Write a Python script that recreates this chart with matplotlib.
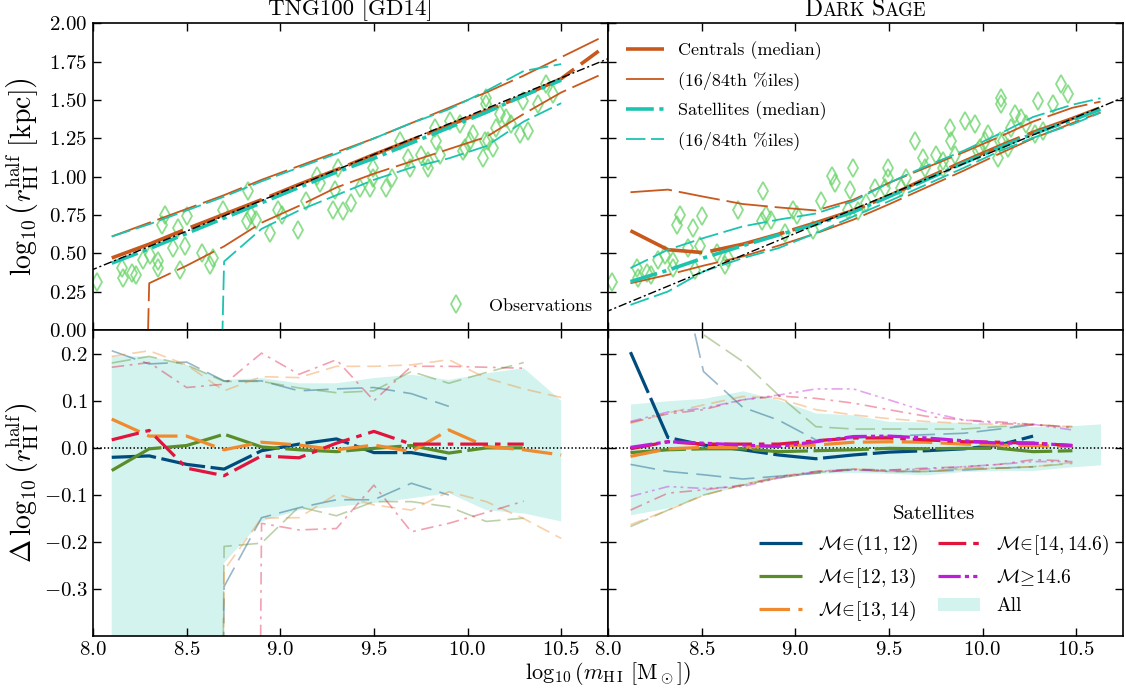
import numpy as np
import matplotlib.pyplot as plt
from matplotlib.ticker import MultipleLocator
from matplotlib.patches import Patch
from matplotlib.offsetbox import TextArea, HPacker, AnchoredOffsetbox

plt.rcParams['font.family'] = 'cmr10'
plt.rcParams['mathtext.fontset'] = 'cm'
plt.rcParams['axes.formatter.use_mathtext'] = True
plt.rcParams['lines.scale_dashes'] = False

# observed galaxies (shown in both upper panels)
obs_logm = [8.02, 8.153, 8.162, 8.206, 8.23, 8.269, 8.304, 8.349, 8.349, 8.366, 8.384,
            8.429, 8.455, 8.491, 8.50, 8.464, 8.58, 8.624, 8.642, 8.695, 8.829, 8.82,
            8.846, 8.873, 8.944, 8.989, 9.007, 9.096, 9.14, 9.194, 9.211, 9.282, 9.291,
            9.336, 9.309, 9.38, 9.424, 9.478, 9.496, 9.496, 9.567, 9.594, 9.638, 9.682,
            9.691, 9.754, 9.789, 9.789, 9.825, 9.834, 9.852, 9.905, 9.958, 9.976, 9.985,
            10.012, 10.03, 10.083, 10.092, 10.101, 10.101, 10.11, 10.136, 10.154, 10.172,
            10.207, 10.234, 10.278, 10.296, 10.323, 10.376, 10.421, 10.456]
obs_logr = [0.316, 0.404, 0.339, 0.371, 0.36, 0.458, 0.491, 0.447, 0.404, 0.687, 0.753,
            0.535, 0.665, 0.545, 0.742, 0.393, 0.502, 0.425, 0.469, 0.785, 0.905, 0.709,
            0.753, 0.72, 0.633, 0.785, 0.753, 0.654, 0.84, 1.003, 0.96, 0.785, 0.916,
            0.774, 1.058, 0.829, 0.927, 0.927, 1.058, 0.993, 0.927, 0.993, 1.233, 1.124,
            1.058, 1.145, 1.101, 1.058, 1.32, 1.233, 1.145, 1.363, 1.341, 1.167, 1.189,
            1.233, 1.276, 1.124, 1.233, 1.516, 1.472, 1.233, 1.189, 1.32, 1.407,
            1.385, 1.341, 1.276, 1.494, 1.298, 1.472, 1.603, 1.538]

# TNG100 [GD14]: size-mass medians and percentiles
tng_m = [8.1, 8.3, 8.5, 8.7, 8.9, 9.1, 9.3, 9.5, 9.7, 9.9, 10.1, 10.3, 10.5, 10.7]
tng_cen_med = [0.47, 0.56, 0.66, 0.755, 0.85, 0.95, 1.045, 1.145, 1.24, 1.335, 1.43, 1.53, 1.64, 1.82]
tng_cen_p16 = [-10, 0.305, 0.42, 0.546, 0.70, 0.81, 0.93, 1.02, 1.10, 1.18, 1.26, 1.41, 1.55, 1.66]
tng_cen_p84 = [0.61, 0.70, 0.79, 0.88, 0.98, 1.07, 1.16, 1.25, 1.35, 1.45, 1.55, 1.66, 1.78, 1.90]
tng_sat_med = [0.436, 0.53, 0.63, 0.73, 0.83, 0.93, 1.03, 1.12, 1.22, 1.32, 1.42, 1.53, 1.63]
tng_sat_p16 = [-10, -10, -10, 0.447, 0.66, 0.78, 0.88, 0.98, 1.06, 1.12, 1.20, 1.36, 1.48]
tng_sat_p84 = [0.61, 0.69, 0.78, 0.87, 0.97, 1.06, 1.15, 1.25, 1.35, 1.44, 1.56, 1.69, 1.735]
tng_fit = (0.500, -3.605)

# Dark Sage
ds_m = [8.12, 8.32, 8.51, 8.72, 8.91, 9.11, 9.31, 9.50, 9.70, 9.90, 10.09, 10.27, 10.48, 10.63]
ds_cen_med = [0.648, 0.524, 0.505, 0.56, 0.625, 0.70, 0.78, 0.875, 0.99, 1.10, 1.20, 1.29, 1.38, 1.45]
ds_cen_p16 = [0.305, 0.36, 0.42, 0.48, 0.55, 0.63, 0.72, 0.82, 0.93, 1.04, 1.15, 1.25, 1.35, 1.42]
ds_cen_p84 = [0.899, 0.916, 0.87, 0.822, 0.80, 0.78, 0.85, 0.96, 1.06, 1.16, 1.26, 1.36, 1.45, 1.49]
ds_sat_med = [0.316, 0.39, 0.47, 0.55, 0.62, 0.69, 0.77, 0.87, 0.98, 1.09, 1.19, 1.28, 1.37, 1.44]
ds_sat_p16 = [0.164, 0.251, 0.382, 0.469, 0.534, 0.632, 0.741, 0.84, 0.949, 1.058, 1.167, 1.254, 1.342, 1.418]
ds_sat_p84 = [0.404, 0.524, 0.60, 0.676, 0.72, 0.76, 0.84, 0.96, 1.07, 1.17, 1.28, 1.39, 1.47, 1.512]
ds_fit = (0.506, -3.924)

# satellite residuals by host halo mass, TNG100
tng_all_hi = [0.194, 0.194, 0.176, 0.144, 0.148, 0.137, 0.137, 0.148, 0.155, 0.144, 0.158, 0.169, 0.100]
tng_all_lo = [-10, -10, -10, -0.244, -0.156, -0.132, -0.125, -0.117, -0.107, -0.096, -0.132, -0.139, -0.156]
tng_res_med = [
    [-0.020, -0.017, -0.035, -0.045, -0.006, 0.008, 0.019, -0.010, -0.010, -0.024],
    [-0.048, -0.002, 0.005, 0.029, 0.002, -0.004, -0.008, -0.001, 0.005, -0.011, 0.0, 0.0],
    [0.061, 0.025, 0.025, -0.004, 0.012, 0.006, -0.004, 0.006, -0.008, 0.038, 0.003, -0.004, -0.015],
    [0.017, 0.037, -0.043, -0.059, -0.017, -0.021, 0.010, 0.035, 0.008, 0.008, 0.008, 0.008],
]
tng_res_p84 = [
    [0.206, 0.178, 0.182, 0.142, 0.142, 0.121, 0.125, 0.128, 0.115, 0.088],
    [0.180, 0.194, 0.176, 0.141, 0.141, 0.127, 0.117, 0.121, 0.162, 0.137, 0.160, 0.181],
    [0.194, 0.206, 0.176, 0.121, 0.151, 0.149, 0.173, 0.173, 0.176, 0.187, 0.148, 0.125, 0.107],
    [0.171, 0.181, 0.128, 0.135, 0.201, 0.156, 0.187, 0.100, 0.173, 0.173, 0.171, 0.169],
]
tng_res_p16 = [
    [-10, -10, -10, -0.294, -0.148, -0.127, -0.110, -0.110, -0.075, -0.100],
    [-10, -10, -10, -0.209, -0.202, -0.125, -0.144, -0.114, -0.114, -0.125, -0.156, -0.149],
    [-10, -10, -10, -0.259, -0.149, -0.148, -0.098, -0.121, -0.132, -0.093, -0.114, -0.150, -0.192],
    [-10, -10, -10, -10, -0.160, -0.174, -0.171, -0.079, -0.178, -0.160, -0.137, -0.113],
]

# satellite residuals by host halo mass, Dark Sage
ds_all_hi = [0.093, 0.100, 0.105, 0.121, 0.102, 0.074, 0.070, 0.056, 0.055, 0.054, 0.049, 0.045, 0.047, 0.051]
ds_all_lo = [-0.142, -0.127, -0.100, -0.079, -0.064, -0.054, -0.052, -0.054, -0.057, -0.050, -0.048, -0.048, -0.040, -0.036]
ds_res_med = [
    [0.203, 0.022, 0.006, -0.004, -0.015, -0.023, -0.015, -0.009, -0.006, -0.002, 0.006, 0.025],
    [-0.010, -0.004, -0.002, -0.002, -0.008, -0.006, -0.004, -0.001, -0.002, -0.001, -0.001, -0.008, -0.006],
    [-0.018, -0.002, 0.001, 0.001, 0.005, 0.006, 0.012, 0.013, 0.012, 0.008, 0.006, 0.005, 0.003],
    [-0.002, 0.013, 0.008, 0.008, 0.008, 0.015, 0.021, 0.021, 0.017, 0.013, 0.012, 0.010, 0.005],
    [0.001, 0.013, 0.010, 0.006, 0.003, 0.013, 0.024, 0.025, 0.021, 0.015, 0.010, 0.010, 0.005],
]
ds_res_p84 = [
    [0.55, 0.49, 0.162, 0.086, 0.059, 0.017, 0.020, 0.025, 0.028, 0.031, 0.040, 0.049],
    [0.40, 0.32, 0.24, 0.183, 0.112, 0.045, 0.040, 0.040, 0.040, 0.040, 0.045, 0.049, 0.045],
    [0.052, 0.074, 0.091, 0.109, 0.105, 0.081, 0.070, 0.062, 0.056, 0.052, 0.050, 0.049, 0.045],
    [0.054, 0.072, 0.081, 0.102, 0.110, 0.105, 0.095, 0.081, 0.067, 0.059, 0.055, 0.050, 0.043],
    [0.056, 0.076, 0.084, 0.102, 0.112, 0.125, 0.125, 0.102, 0.077, 0.059, 0.052, 0.050, 0.038],
]
ds_res_p16 = [
    [-0.035, -0.050, -0.057, -0.066, -0.060, -0.054, -0.045, -0.050, -0.050, -0.047, -0.043, -0.040],
    [-0.167, -0.132, -0.100, -0.079, -0.064, -0.052, -0.047, -0.050, -0.050, -0.043, -0.043, -0.040, -0.033],
    [-0.163, -0.132, -0.101, -0.077, -0.063, -0.050, -0.045, -0.049, -0.050, -0.045, -0.043, -0.040, -0.031],
    [-0.132, -0.096, -0.089, -0.079, -0.061, -0.050, -0.045, -0.047, -0.043, -0.040, -0.035, -0.025, -0.028],
    [-0.103, -0.082, -0.086, -0.082, -0.064, -0.050, -0.047, -0.047, -0.045, -0.040, -0.035, -0.029, -0.029],
]

halo_labels = [r'$\mathcal{M}\!\in\!(11, 12)$', r'$\mathcal{M}\!\in\![12, 13)$',
               r'$\mathcal{M}\!\in\![13, 14)$', r'$\mathcal{M}\!\in\![14, 14.6)$',
               r'$\mathcal{M}\!\geq\!14.6$']
halo_colors = ['#004b7d', '#5b8c2a', '#f08a2e', '#e0143c', '#c01ada']
halo_dashes = [(32, 4), (40, 4), (22, 6), (20, 5, 4, 5), (16, 3, 3, 3, 3, 3)]
thin_dashes = [(18, 6), (14, 5), (10, 5), (9, 4, 2, 4), (8, 3, 2, 3, 2, 3)]

c_cen = '#c9581c'
c_sat = '#1cc4b0'
c_obs = '#66d466'
c_all = '#d3f3ee'

fig, axes = plt.subplots(2, 2, figsize=(11.26, 6.89), dpi=100, sharex=True, sharey='row')
fig.subplots_adjust(left=0.0826, right=0.9973, top=0.9659, bottom=0.0762, hspace=0, wspace=0)
ax_tl, ax_tr = axes[0]
ax_bl, ax_br = axes[1]

# upper panels: size-mass relations
for ax, m, cmed, c16, c84, smed, s16, s84, fit in [
        (ax_tl, tng_m, tng_cen_med, tng_cen_p16, tng_cen_p84, tng_sat_med, tng_sat_p16, tng_sat_p84, tng_fit),
        (ax_tr, ds_m, ds_cen_med, ds_cen_p16, ds_cen_p84, ds_sat_med, ds_sat_p16, ds_sat_p84, ds_fit)]:
    obs = ax.plot(obs_logm, obs_logr, 'd', ms=9, mfc='none', mec=c_obs, mew=1.3, alpha=0.75,
                  label='Observations', zorder=1)[0]
    m = np.array(m)
    xx = np.linspace(7.9, 10.9, 10)
    ax.plot(xx, fit[0] * xx + fit[1], color='k', lw=1.0, dashes=(6, 2, 1.5, 2), zorder=5)
    l1, = ax.plot(m[:len(cmed)], cmed, color=c_cen, lw=2.6, dashes=(55, 6), label='Centrals (median)', zorder=3)
    l2, = ax.plot(m[:len(c16)], c16, color=c_cen, lw=1.3, dashes=(30, 5), label='(16/84th %iles)', zorder=3)
    ax.plot(m[:len(c84)], c84, color=c_cen, lw=1.3, dashes=(30, 5), zorder=3)
    l3, = ax.plot(m[:len(smed)], smed, color=c_sat, lw=2.6, dashes=(20, 4, 3, 4), label='Satellites (median)', zorder=4)
    l4, = ax.plot(m[:len(s16)], s16, color=c_sat, lw=1.3, dashes=(14, 4), label='(16/84th %iles)', zorder=4)
    ax.plot(m[:len(s84)], s84, color=c_sat, lw=1.3, dashes=(14, 4), zorder=4)

ax_tl.legend(handles=[obs], loc='lower right', frameon=False, fontsize=13)
ax_tr.legend(handles=[l1, l2, l3, l4], loc='upper left', frameon=False, fontsize=13,
             handlelength=2.1, borderaxespad=0.6, labelspacing=0.62)

# lower panels: satellite residuals split by halo mass
for ax, m, lo, hi, meds, p16s, p84s in [
        (ax_bl, tng_m, tng_all_lo, tng_all_hi, tng_res_med, tng_res_p16, tng_res_p84),
        (ax_br, ds_m, ds_all_lo, ds_all_hi, ds_res_med, ds_res_p16, ds_res_p84)]:
    m = np.array(m)
    ax.fill_between(m[:len(hi)], lo, hi, color=c_all, lw=0, zorder=0)
    ax.axhline(0, color='k', ls=':', lw=1.2, zorder=1)
    for i in range(len(meds)):
        ax.plot(m[:len(p84s[i])], p84s[i], color=halo_colors[i], lw=1.2, alpha=0.4,
                dashes=thin_dashes[i], zorder=2)
        ax.plot(m[:len(p16s[i])], p16s[i], color=halo_colors[i], lw=1.2, alpha=0.4,
                dashes=thin_dashes[i], zorder=2)
        ax.plot(m[:len(meds[i])], meds[i], color=halo_colors[i], lw=2.3,
                dashes=halo_dashes[i], label=halo_labels[i], zorder=3)

h, lab = ax_br.get_legend_handles_labels()
h.append(Patch(color=c_all, lw=0))
lab.append('All')
ax_br.legend(h, lab, loc='lower right', ncol=2, frameon=False, fontsize=14, title='Satellites',
             title_fontsize=15, handlelength=2.2, columnspacing=1.0, borderaxespad=0.3)

# axes, ticks and labels
ax_tl.set_xlim(8.0, 10.75)
ax_tl.set_ylim(0.0, 2.0)
ax_bl.set_ylim(-0.4, 0.25)
ax_tl.yaxis.set_major_locator(MultipleLocator(0.25))
ax_bl.xaxis.set_major_locator(MultipleLocator(0.5))
ax_bl.set_yticks([-0.3, -0.2, -0.1, 0.0, 0.1, 0.2])
for ax in axes.flat:
    ax.tick_params(direction='in', top=True, right=True, length=6, width=1, labelsize=15)
    ax.tick_params(axis='x', pad=3)
    ax.tick_params(axis='y', pad=4)
    for s in ax.spines.values():
        s.set_linewidth(1.2)

ax_tl.set_ylabel(r'$\log_{10}\left(r^{\rm half}_{\rm H\,I}\ [{\rm kpc}]\right)$', fontsize=20, labelpad=2)
ax_bl.set_ylabel(r'$\Delta\,\log_{10}\left(r^{\rm half}_{\rm H\,I}\right)$', fontsize=20, labelpad=2)
fig.align_ylabels([ax_tl, ax_bl])
fig.text(0.54, 0.022, r'$\log_{10}(m_{\rm H\,I}\ [{\rm M}_\odot])$', ha='center', va='center', fontsize=16)


def panel_title(ax, parts):
    # text pieces of different sizes sharing one baseline, centred above the panel
    box = HPacker(children=[TextArea(t, textprops=dict(fontsize=s, family='cmr10')) for t, s in parts],
                  align='baseline', pad=0, sep=0)
    ax.add_artist(AnchoredOffsetbox(loc='lower center', child=box, pad=0, borderpad=0.2, frameon=False,
                                    bbox_to_anchor=(0.5, 1.0), bbox_transform=ax.transAxes))


panel_title(ax_tl, [('TNG100 [GD14]', 16.5)])
panel_title(ax_tr, [('D', 17), ('ARK', 13.5), (' ', 13.5), ('S', 17), ('AGE', 13.5)])

fig.savefig('out.png', dpi=100)
